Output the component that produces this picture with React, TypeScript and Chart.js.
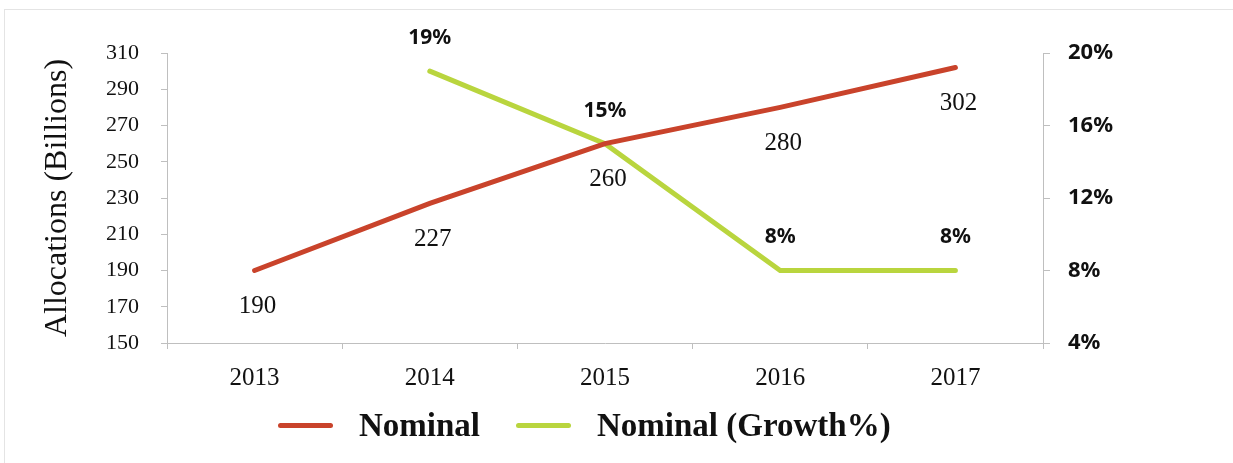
import React, { useEffect, useRef } from "react";
import { Chart, registerables } from "chart.js";

Chart.register(...registerables);

const years = ["2013", "2014", "2015", "2016", "2017"];
const nominal = [190, 227, 260, 280, 302];
const growth = [null, 19, 15, 8, 8];
const leftTicks = { min: 150, max: 310, step: 20 };
const rightTicks = { min: 4, max: 20, step: 4 };

const RED = "#C9432B";
const GREEN = "#B9D53E";
const AXIS = "#BFBFBF";

const labelPlugin = {
  id: "pointLabels",
  afterDatasetsDraw(chart: any) {
    const ctx = chart.ctx;
    ctx.save();
    ctx.textAlign = "center";
    ctx.textBaseline = "middle";
    ctx.fillStyle = "#111";
    chart.data.datasets.forEach((ds: any, di: number) => {
      const meta = chart.getDatasetMeta(di);
      meta.data.forEach((pt: any, i: number) => {
        const v = ds.data[i];
        if (v === null || v === undefined) return;
        if (di === 0) {
          ctx.font = "25px 'Liberation Serif'";
          ctx.fillText(String(v), pt.x + 3, pt.y + 36);
        } else {
          ctx.font = "bold 21px 'Noto Sans'";
          ctx.fillText(v + "%", pt.x, pt.y - 33);
        }
      });
    });
    ctx.restore();
  },
};

export default function App() {
  const ref = useRef<HTMLCanvasElement>(null);
  useEffect(() => {
    document.body.style.margin = "0";
    const chart = new Chart(ref.current!, {
      type: "line",
      data: {
        labels: years,
        datasets: [
          {
            label: "Nominal",
            data: nominal,
            borderColor: RED,
            backgroundColor: RED,
            borderWidth: 5,
            pointRadius: 0,
            tension: 0,
            borderCapStyle: "round",
            yAxisID: "y",
          },
          {
            label: "Nominal (Growth%)",
            data: growth,
            borderColor: GREEN,
            backgroundColor: GREEN,
            borderWidth: 5,
            pointRadius: 0,
            tension: 0,
            borderCapStyle: "round",
            yAxisID: "y1",
          },
        ],
      },
      options: {
        responsive: false,
        animation: false,
        layout: { padding: { top: 53, bottom: 0, left: 0, right: 0 } },
        plugins: { legend: { display: false }, tooltip: { enabled: false } },
        scales: {
          x: {
            offset: true,
            grid: { offset: true, drawOnChartArea: false, color: AXIS, tickLength: 6 },
            border: { color: AXIS },
            ticks: { color: "#111", font: { family: "'Liberation Serif'", size: 25 }, padding: 14 },
            afterFit: (s: any) => { s.height = 120; },
          },
          y: {
            position: "left",
            min: leftTicks.min,
            max: leftTicks.max,
            ticks: { stepSize: leftTicks.step, color: "#111", font: { family: "'Liberation Serif'", size: 22 }, padding: 22 },
            grid: { drawOnChartArea: false, color: AXIS, tickLength: 6 },
            border: { color: AXIS },
            title: {
              display: true,
              text: "Allocations (Billions)",
              color: "#111",
              font: { family: "'Liberation Serif'", size: 32 },
              padding: { top: 38, bottom: 0 },
            },
            afterFit: (s: any) => { s.width = 167; },
          },
          y1: {
            position: "right",
            min: rightTicks.min,
            max: rightTicks.max,
            ticks: {
              stepSize: rightTicks.step,
              color: "#111",
              font: { family: "'Noto Sans'", size: 22, weight: "bold" },
              padding: 18,
              callback: (v: any) => v + "%",
            },
            grid: { drawOnChartArea: false, color: AXIS, tickLength: 7 },
            border: { color: AXIS },
            afterFit: (s: any) => { s.width = 190; },
          },
        },
      },
      plugins: [labelPlugin],
    } as any);
    return () => chart.destroy();
  }, []);

  const legendText: React.CSSProperties = {
    fontFamily: "'Liberation Serif'",
    fontWeight: "bold",
    fontSize: 33,
    color: "#111",
    lineHeight: 1,
  };
  const line = (c: string): React.CSSProperties => ({
    width: 55,
    height: 5,
    borderRadius: 3,
    background: c,
  });

  return (
    <div style={{ position: "relative", width: 1233, height: 463, background: "#fff" }}>
      <div style={{ position: "absolute", left: 4, top: 9, right: 0, bottom: 0, borderTop: "1px solid #e4e4e4", borderLeft: "1px solid #e4e4e4" }} />
      <canvas ref={ref} width={1233} height={463} style={{ position: "absolute", left: 0, top: 0 }} />
      <div style={{ position: "absolute", left: 278, top: 405, height: 40, display: "flex", alignItems: "center" }}>
        <div style={line(RED)} />
        <span style={{ ...legendText, marginLeft: 26 }}>Nominal</span>
        <div style={{ ...line(GREEN), marginLeft: 36 }} />
        <span style={{ ...legendText, marginLeft: 26 }}>Nominal (Growth%)</span>
      </div>
    </div>
  );
}
